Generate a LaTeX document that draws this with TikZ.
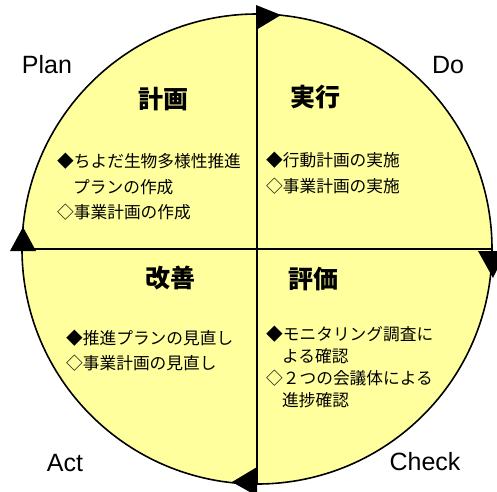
\documentclass[tikz,border=0pt]{standalone}
\usepackage{fontspec}
\setmainfont{Liberation Sans}
\newfontfamily\jp{Noto Sans CJK JP}
\definecolor{cyc}{RGB}{255,255,158}
\begin{document}
\begin{tikzpicture}[x=1pt,y=-1pt,
  lbl/.style={font=\fontsize{25}{25}\selectfont, inner sep=0pt},
  head/.style={font=\jp\bfseries\fontsize{25}{25}\selectfont, inner sep=0pt},
  item/.style={font=\jp\fontsize{16.7}{16.7}\selectfont, inner sep=0pt, anchor=west},
  tri/.style={fill=black}]
\useasboundingbox (0,0) rectangle (497,491);
\coordinate (c) at (257,249);
\fill[cyc] (c) circle (235pt);
\draw[line width=1.6pt] (c) circle (235pt);
\coordinate (top) at (257,14);
\coordinate (bot) at (257,484);
\coordinate (lft) at (22,249);
\coordinate (rgt) at (492,249);
\draw[line width=2pt] (top) -- (bot);
\draw[line width=2pt] (lft) -- (rgt);
% arrowheads
\fill[tri] (256,5) -- (281,15) -- (256,30) -- cycle;
\fill[tri] (478,251) -- (506,251) -- (493,278) -- cycle;
\fill[tri] (257,467) -- (257,496) -- (232,482) -- cycle;
\fill[tri] (10,251) -- (23,227) -- (36,251) -- cycle;
% corner labels
\node[lbl] (plan) at (47,65) {Plan};
\node[lbl] (do) at (448,65) {Do};
\node[lbl] (act) at (65,463) {Act};
\node[lbl] (check) at (425,462) {Check};
% headings
\node[head] (h1) at (163,99) {計画};
\node[head] (h2) at (315,97) {実行};
\node[head] (h3) at (170,278) {改善};
\node[head] (h4) at (313,279) {評価};
% items
\node[item] (a1) at (57,161) {◆ちよだ生物多様性推進};
\node[item] (a2) at (73,187) {プランの作成};
\node[item] (a3) at (57,212) {◇事業計画の作成};
\node[item] (b1) at (266,160) {◆行動計画の実施};
\node[item] (b2) at (266,186) {◇事業計画の実施};
\node[item] (c1) at (66,338) {◆推進プランの見直し};
\node[item] (c2) at (66,363) {◇事業計画の見直し};
\node[item] (d1) at (266,334) {◆モニタリング調査に};
\node[item] (d2) at (282,356) {よる確認};
\node[item] (d3) at (266,378) {◇２つの会議体による};
\node[item] (d4) at (282,400) {進捗確認};
\end{tikzpicture}
\end{document}
